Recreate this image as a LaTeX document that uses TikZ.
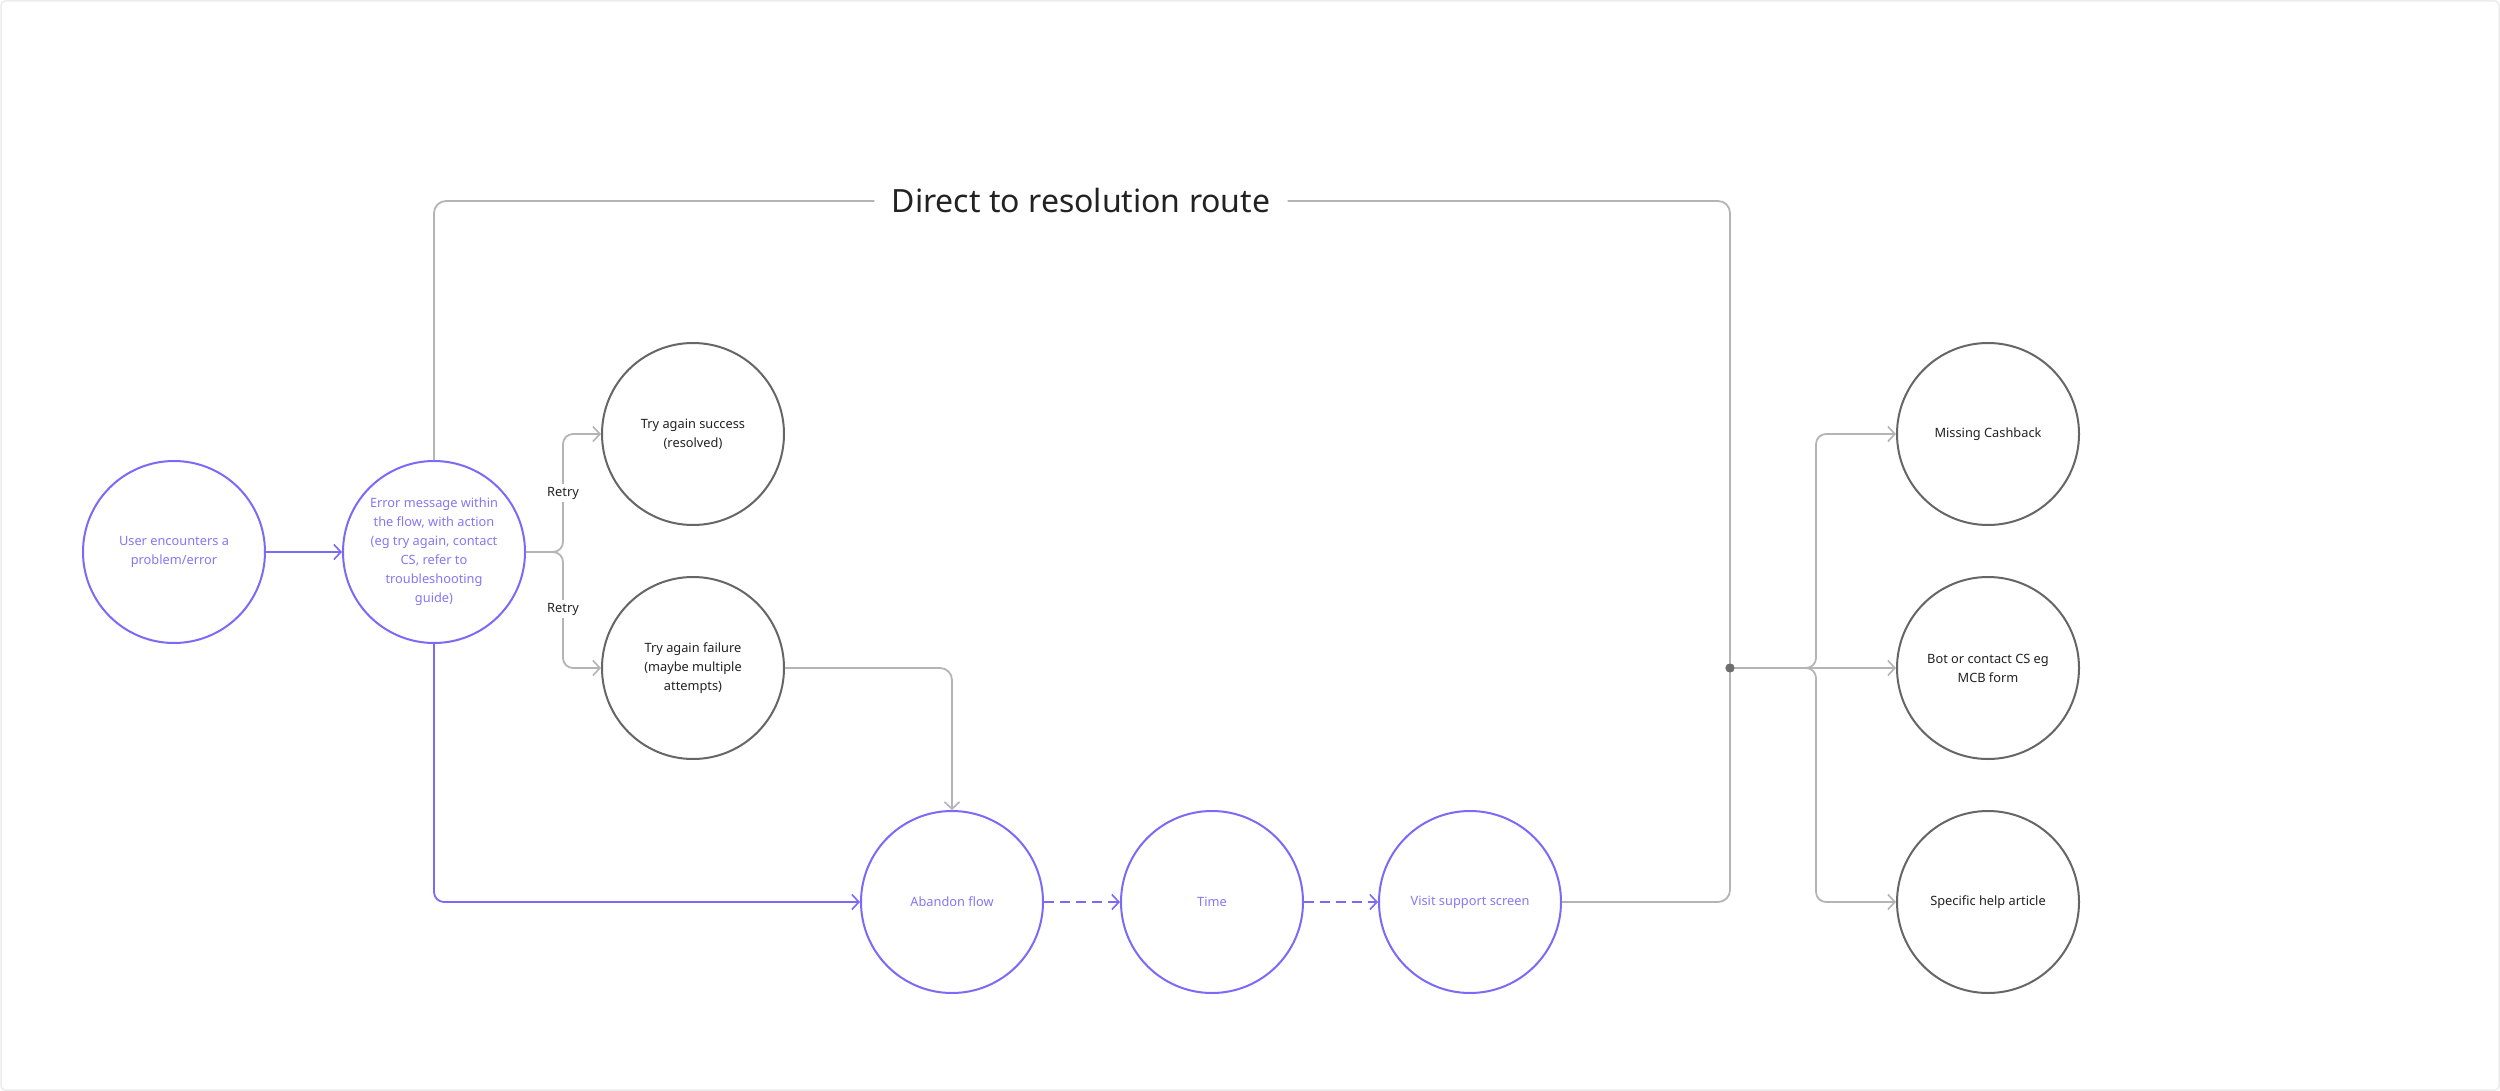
\documentclass[tikz,border=0pt]{standalone}
\usepackage{fontspec}
\setmainfont{Noto Sans}
\usetikzlibrary{arrows.meta}
\definecolor{vio}{HTML}{7B6AF7}
\definecolor{viotext}{HTML}{8577F7}
\definecolor{ringgrey}{HTML}{666666}
\definecolor{linegrey}{HTML}{B4B4B4}
\definecolor{dotgrey}{HTML}{6E6E6E}
\definecolor{inkgrey}{HTML}{222222}
\definecolor{edgegrey}{HTML}{ECECEC}
\tikzset{
  bubble/.style={circle, minimum size=182pt, inner sep=0pt, line width=2pt, align=center,
    font=\fontsize{12.8}{19}\selectfont},
  vbubble/.style={bubble, draw=vio, text=viotext},
  gbubble/.style={bubble, draw=ringgrey, text=inkgrey},
  tip/.style={-{Straight Barb[length=7pt,width=15pt,line width=1.6pt]}},
  vline/.style={draw=vio, line width=1.8pt},
  gline/.style={draw=linegrey, line width=1.8pt},
  retrylab/.style={fill=white, inner sep=3pt, text=inkgrey, font=\fontsize{12.8}{16}\selectfont},
}
\begin{document}
\begin{tikzpicture}[x=1pt,y=-1pt]
\useasboundingbox (0,0) rectangle (2500,1091);
\fill[white] (0,0) rectangle (2500,1091);
\draw[edgegrey, line width=1.5pt, rounded corners=4pt] (1,1) rectangle (2499,1090);

% nodes
\node[vbubble] (user) at (174,552) {User encounters a\\problem/error};
\node[vbubble] (err) at (434,552) {Error message within\\the flow, with action\\(eg try again, contact\\CS, refer to\\troubleshooting\\guide)};
\node[gbubble] (succ) at (693,434) {Try again success\\(resolved)};
\node[gbubble] (fail) at (693,668) {Try again failure\\(maybe multiple\\attempts)};
\node[vbubble] (aband) at (952,902) {Abandon flow};
\node[vbubble] (time) at (1212,902) {Time};
\node[vbubble] (visit) at (1470,902) {Visit support screen};
\node[gbubble] (mc) at (1988,434) {Missing Cashback};
\node[gbubble] (bot) at (1988,668) {Bot or contact CS eg\\MCB form};
\node[gbubble] (help) at (1988,902) {Specific help article};

\node[minimum width=413pt, inner sep=0pt, text=inkgrey, font=\fontsize{32}{40}\selectfont] (title) at (1081,201) {Direct to resolution route};

\coordinate (rbr) at (563,552);
\coordinate (rtop) at (563,434);
\coordinate (rbot) at (563,668);
\coordinate (fcorner) at (952,668);
\coordinate (ecorner) at (434,902);
\coordinate (fr1) at (1730,902);
\coordinate (fr2) at (1730,201);
\coordinate (fl1) at (434,201);
\node[circle, fill=dotgrey, minimum size=9pt, inner sep=0pt] (dot) at (1730,668) {};
\coordinate (bbr) at (1816,668);
\coordinate (btop) at (1816,434);
\coordinate (bbot) at (1816,902);

% purple connectors
\draw[vline, tip] (user) -- (err);
\draw[vline, tip, rounded corners=10pt] (err.south) -- (ecorner) -- (aband.west);
\draw[vline, tip, dash pattern=on 10pt off 6pt] (aband) -- (time);
\draw[vline, tip, dash pattern=on 10pt off 6pt] (time) -- (visit);

% retry bracket
\draw[gline, tip, rounded corners=10pt] (err.east) -- (rbr) -- (rtop) -- (succ.west);
\draw[gline, tip, rounded corners=10pt] (err.east) -- (rbr) -- (rbot) -- (fail.west);
\node[retrylab] (retry1) at (563,493) {Retry};
\node[retrylab] (retry2) at (563,609) {Retry};

% failure to abandon
\draw[gline, tip, rounded corners=12pt] (fail.east) -- (fcorner) -- (aband.north);

% frame
\draw[gline, rounded corners=12pt] (err.north) -- (fl1) -- (title.west);
\draw[gline, rounded corners=12pt] (visit.east) -- (fr1) -- (fr2) -- (title.east);

% right bracket
\draw[gline, tip, rounded corners=10pt] (dot) -- (bbr) -- (btop) -- (mc.west);
\draw[gline, tip, rounded corners=10pt] (dot) -- (bbr) -- (bbot) -- (help.west);
\draw[gline, tip] (dot) -- (bot.west);
\node[circle, fill=dotgrey, minimum size=9pt, inner sep=0pt] at (dot) {};
\end{tikzpicture}
\end{document}
